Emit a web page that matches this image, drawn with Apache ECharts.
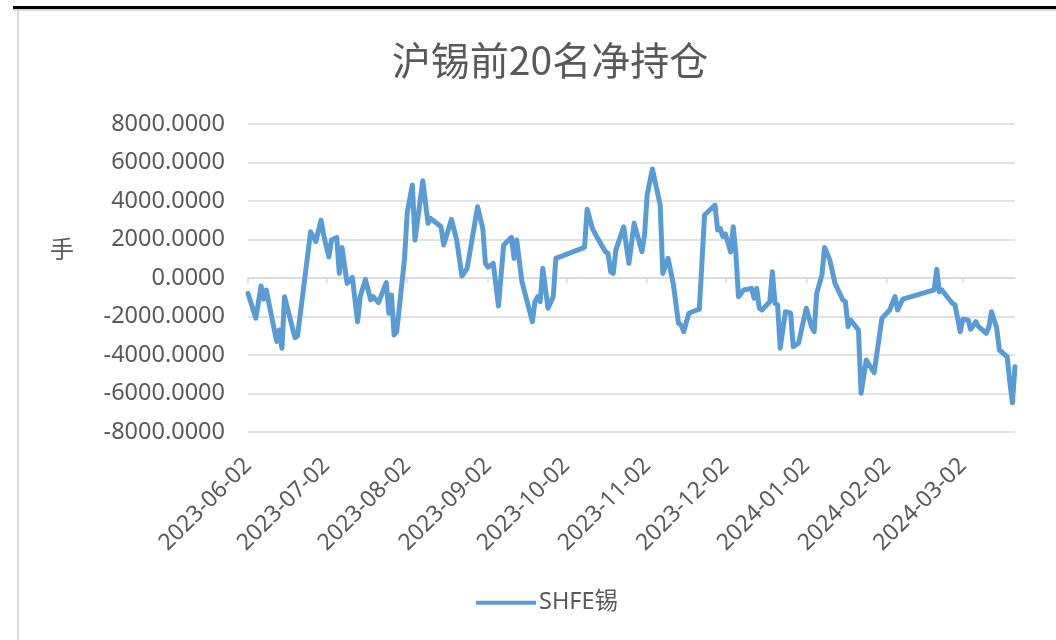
<!DOCTYPE html>
<html>
<head>
<meta charset="utf-8">
<script src="https://cdn.jsdelivr.net/npm/echarts@6/dist/echarts.min.js"></script>
<style>
html,body{margin:0;padding:0;background:#fff;}
#chart{width:1056px;height:640px;}
</style>
</head>
<body>
<div id="chart"></div>
<script>
const titleText = '沪锡前20名净持仓';
const seriesName = 'SHFE锡';
const yUnit = '手';
const tickDates = ['2023-06-02','2023-07-02','2023-08-02','2023-09-02','2023-10-02','2023-11-02','2023-12-02','2024-01-02','2024-02-02','2024-03-02'];
const startDate = '2023-06-02';
const endDate = '2024-03-22';
const dates = [
'2023-06-02','2023-06-05','2023-06-07','2023-06-08','2023-06-09','2023-06-13','2023-06-14','2023-06-15','2023-06-16','2023-06-20','2023-06-21','2023-06-26','2023-06-28','2023-06-30',
'2023-07-01','2023-07-03','2023-07-04','2023-07-06','2023-07-07','2023-07-08','2023-07-10','2023-07-12','2023-07-14','2023-07-15','2023-07-17','2023-07-19','2023-07-20','2023-07-22','2023-07-25','2023-07-26','2023-07-27','2023-07-28','2023-07-29',
'2023-08-01','2023-08-02','2023-08-04','2023-08-05','2023-08-08','2023-08-10','2023-08-11','2023-08-15','2023-08-16','2023-08-19','2023-08-21','2023-08-23','2023-08-25','2023-08-29','2023-08-31',
'2023-09-01','2023-09-02','2023-09-04','2023-09-06','2023-09-08','2023-09-11','2023-09-12','2023-09-13','2023-09-15','2023-09-19','2023-09-20','2023-09-21','2023-09-22','2023-09-23','2023-09-25','2023-09-27','2023-09-28',
'2023-10-09','2023-10-10','2023-10-12','2023-10-14','2023-10-17','2023-10-18','2023-10-19','2023-10-20','2023-10-21','2023-10-24','2023-10-26','2023-10-28','2023-10-31',
'2023-11-01','2023-11-02','2023-11-04','2023-11-07','2023-11-08','2023-11-10','2023-11-12','2023-11-14','2023-11-15','2023-11-16','2023-11-18','2023-11-21','2023-11-22','2023-11-24','2023-11-28','2023-11-29','2023-11-30',
'2023-12-01','2023-12-02','2023-12-04','2023-12-05','2023-12-06','2023-12-07','2023-12-09','2023-12-12','2023-12-13','2023-12-14','2023-12-15','2023-12-16','2023-12-19','2023-12-20','2023-12-21','2023-12-22','2023-12-23','2023-12-25','2023-12-27','2023-12-28','2023-12-30',
'2024-01-02','2024-01-04','2024-01-05','2024-01-06','2024-01-08','2024-01-09','2024-01-11','2024-01-13','2024-01-16','2024-01-17','2024-01-18','2024-01-19','2024-01-22','2024-01-23','2024-01-25','2024-01-28','2024-01-31',
'2024-02-03','2024-02-05','2024-02-06','2024-02-08','2024-02-20','2024-02-21','2024-02-22','2024-02-23','2024-02-27','2024-02-28',
'2024-03-01','2024-03-02','2024-03-04','2024-03-05','2024-03-07','2024-03-08','2024-03-11','2024-03-12','2024-03-13','2024-03-15','2024-03-16','2024-03-19','2024-03-20','2024-03-21','2024-03-22'
];
const values = [
-800,-2090,-420,-1100,-620,-3300,-2700,-3650,-970,-3100,-3000,2400,1890,3010,
2230,1100,1970,2110,240,1590,-280,35,-2270,-970,-70,-1140,-970,-1280,-240,-1830,-880,-2960,-2790,
1000,3360,4830,1970,5050,2840,3100,2660,1710,3050,1970,100,500,3700,2580,
760,560,760,-1450,1710,2110,1020,1970,-190,-2270,-1230,-970,-1230,500,-1570,-970,1020,
1590,3570,2580,2060,1370,1280,330,240,1450,2660,760,2840,1370,
2230,4310,5660,3790,240,1020,-280,-2350,-2440,-2790,-1830,-1660,-1630,3270,3790,2490,2580,
2150,2290,1350,2660,1280,-970,-620,-540,-1050,-540,-1570,-1660,-1230,330,-1320,-1400,-3650,-1750,-1830,-3570,-3390,
-1570,-2530,-2790,-800,160,1590,940,-280,-1140,-1230,-2530,-2180,-2700,-5990,-4260,-4920,-2090,
-1660,-970,-1660,-1100,-620,450,-710,-620,-1320,-1400,
-2790,-2140,-2180,-2660,-2270,-2530,-2870,-2530,-1750,-2610,-3740,-4090,-5390,-6480,-4610
];

function parseUTC(s){const p=s.split('-').map(Number);return Date.UTC(p[0],p[1]-1,p[2]);}
const base = parseUTC(startDate);
function dayOff(s){return Math.round((parseUTC(s)-base)/86400000);}
const tickOffsets = tickDates.map(dayOff);
const seriesData = dates.map((d,i)=>[dayOff(d), values[i]]);

const txt = '#595959';
const font = 'Noto Sans, Noto Sans CJK SC, sans-serif';
const chart = echarts.init(document.getElementById('chart'), null, {renderer:'canvas'});
chart.setOption({
  animation:false,
  backgroundColor:'#fff',
  title:{text:titleText,left:545,textAlign:'center',top:36,textStyle:{color:txt,fontSize:39,fontWeight:'normal',fontFamily:'Noto Sans CJK SC'}},
  graphic:[
    {type:'rect',shape:{x:13,y:6,width:1043,height:3},style:{fill:'#000'}},
    {type:'rect',shape:{x:13,y:9,width:1043,height:2},style:{fill:'#d9d9d9'}},
    {type:'rect',shape:{x:17,y:11,width:2,height:629},style:{fill:'#d9d9d9'}},
    {type:'text',left:50,top:237,style:{text:yUnit,fill:txt,fontSize:24,fontFamily:'Noto Sans CJK SC'}}
  ],
  legend:{show:true,left:476,top:591,padding:0,itemWidth:60,itemHeight:14,itemGap:10,
    textStyle:{color:txt,fontSize:23.5,fontFamily:font,padding:[0,0,0,-2]},
    data:[{name:seriesName,icon:'path://M0,0 L100,0 L100,7 L0,7 Z',itemStyle:{color:'#5B9BD5'}}]},
  grid:{left:248,right:41,top:124,bottom:208,containLabel:false},
  xAxis:{type:'value',min:0,max:dayOff(endDate),
    axisLine:{show:true,lineStyle:{color:'#d9d9d9',width:1.5}},
    axisTick:{show:true,customValues:tickOffsets,length:5,lineStyle:{color:'#d9d9d9',width:1.5}},
    axisLabel:{customValues:tickOffsets,rotate:45,margin:30,color:txt,fontSize:23,fontFamily:font,
      formatter:function(v){const i=tickOffsets.indexOf(Math.round(v));return i>=0?tickDates[i]:'';}},
    splitLine:{show:false}},
  yAxis:{type:'value',min:-8000,max:8000,interval:2000,
    axisLine:{show:false},axisTick:{show:false},
    axisLabel:{margin:23,color:txt,fontSize:23.5,fontFamily:font,formatter:v=>v.toFixed(4)},
    splitLine:{lineStyle:{color:'#d9d9d9',width:1.5}}},
  series:[{name:seriesName,type:'line',data:seriesData,symbol:'none',showSymbol:false,
    lineStyle:{color:'#5B9BD5',width:5,cap:'round',join:'round'},itemStyle:{color:'#5B9BD5'}}]
});
</script>
</body>
</html>
